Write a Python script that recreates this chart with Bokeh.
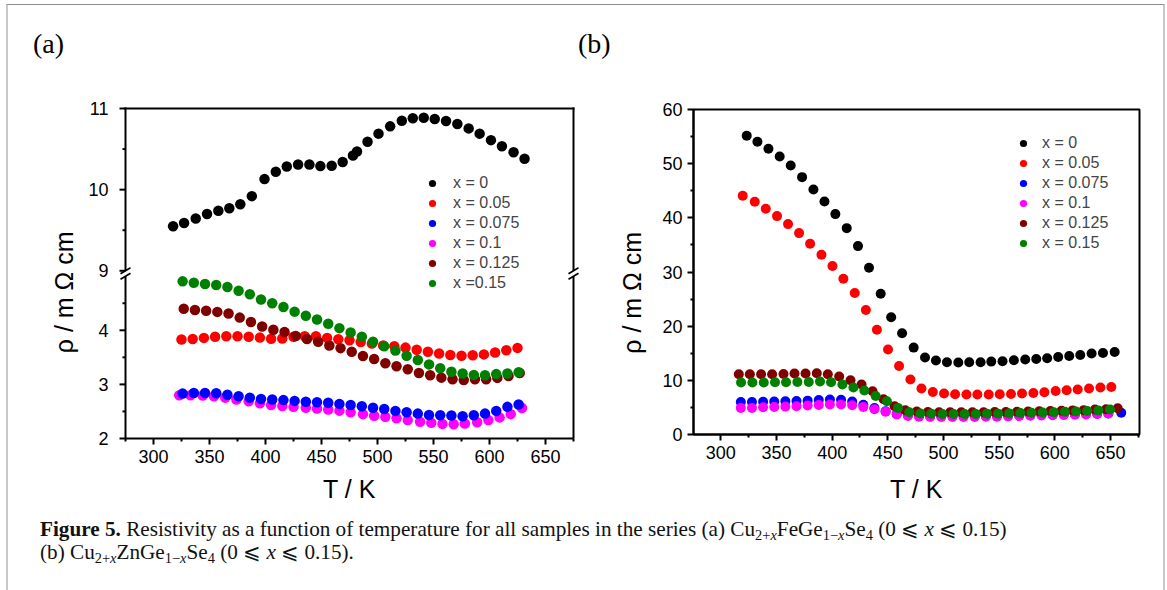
import numpy as np
from bokeh.plotting import figure
from bokeh.models import FixedTicker, Legend, LegendItem, Div
from bokeh.layouts import column, row
from bokeh.embed import file_html
from bokeh.resources import INLINE

# ---------------- data ----------------
SERIES_LABELS_A = ["x = 0", "x = 0.05", "x = 0.075", "x = 0.1", "x = 0.125", "x =0.15"]
SERIES_LABELS_B = ["x = 0", "x = 0.05", "x = 0.075", "x = 0.1", "x = 0.125", "x = 0.15"]
COLORS = ["#000000", "#ff0000", "#0000ff", "#ff00ff", "#800000", "#008000"]

# panel (a): Cu2+xFeGe1-xSe4
T_a0 = [317.5, 327.3, 337.7, 347.8, 357.9, 367.7, 377.5, 387.8, 399.1, 409.2, 419.0, 429.1, 439.2, 449.0, 459.1,
        468.9, 478.1, 481.7, 491.1, 500.9, 511.3, 521.7, 531.5, 541.3, 551.1, 561.2, 571.3, 581.4, 591.2, 601.3,
        611.1, 621.5, 631.3]
R_a0 = [9.55, 9.59, 9.645, 9.70, 9.74, 9.77, 9.82, 9.92, 10.13, 10.22, 10.285, 10.31, 10.31, 10.29, 10.295,
        10.34, 10.42, 10.47, 10.59, 10.69, 10.78, 10.85, 10.88, 10.885, 10.87, 10.845, 10.81, 10.755, 10.69, 10.61,
        10.535, 10.46, 10.38]
T_a1 = [325, 335, 345, 355, 365, 375, 385, 395, 405, 415, 425, 435, 445, 455, 465, 475, 485, 495, 505, 515,
        525, 535, 545, 555, 565, 575, 585, 595, 605, 615, 625]
R_a1 = [3.83, 3.84, 3.86, 3.88, 3.89, 3.89, 3.88, 3.865, 3.845, 3.85, 3.88, 3.89, 3.89, 3.86, 3.835, 3.815,
        3.785, 3.755, 3.72, 3.705, 3.68, 3.64, 3.605, 3.57, 3.545, 3.53, 3.54, 3.555, 3.59, 3.63, 3.675]
T_a2 = [326, 336, 346, 356, 366, 376, 386, 396, 406, 416, 426, 436, 446, 456, 466, 476, 486, 496, 506, 516,
        526, 536, 546, 556, 566, 576, 586, 596, 606, 616, 626]
R_a2 = [2.83, 2.84, 2.84, 2.835, 2.81, 2.78, 2.755, 2.73, 2.72, 2.71, 2.695, 2.68, 2.67, 2.66, 2.64, 2.62,
        2.595, 2.57, 2.545, 2.51, 2.485, 2.46, 2.435, 2.43, 2.425, 2.41, 2.43, 2.46, 2.51, 2.585, 2.63]
T_a3 = [323, 333, 344, 354, 364, 374, 385, 395, 405, 415, 425, 436, 446, 456, 466, 476, 487, 497, 507, 517,
        527, 538, 548, 558, 568, 578, 589, 599, 609, 619, 629]
R_a3 = [2.80, 2.80, 2.795, 2.78, 2.755, 2.72, 2.69, 2.65, 2.62, 2.60, 2.585, 2.57, 2.555, 2.535, 2.515, 2.485,
        2.45, 2.42, 2.40, 2.375, 2.34, 2.31, 2.29, 2.27, 2.265, 2.275, 2.30, 2.34, 2.39, 2.45, 2.565]
T_a4 = [327, 337, 347, 357, 367, 377, 387, 397, 407, 417, 427, 437, 447, 457, 467, 477, 487, 497, 507, 517,
        527, 537, 547, 557, 567, 577, 587, 597, 607, 617, 627]
R_a4 = [4.40, 4.375, 4.36, 4.34, 4.31, 4.235, 4.155, 4.07, 4.01, 3.97, 3.895, 3.84, 3.79, 3.72, 3.67, 3.605,
        3.525, 3.47, 3.39, 3.335, 3.28, 3.21, 3.17, 3.125, 3.095, 3.08, 3.095, 3.095, 3.12, 3.155, 3.21]
T_a5 = [326, 336, 346, 356, 366, 376, 386, 396, 406, 416, 426, 436, 446, 456, 466, 476, 486, 496, 506, 516,
        526, 536, 546, 556, 566, 576, 586, 596, 606, 616, 626]
R_a5 = [4.905, 4.88, 4.855, 4.837, 4.80, 4.73, 4.665, 4.57, 4.50, 4.43, 4.345, 4.27, 4.20, 4.12, 4.04, 3.96,
        3.88, 3.79, 3.705, 3.625, 3.53, 3.45, 3.37, 3.30, 3.235, 3.20, 3.175, 3.17, 3.19, 3.20, 3.225]

# panel (b): Cu2+xZnGe1-xSe4
T_b0 = [323.3, 332.9, 342.8, 352.9, 362.8, 373.0, 383.2, 393.1, 402.9, 413.1, 423.2, 433.1, 443.6, 453.0, 462.8,
        473.2, 483.4, 493.2, 503.1, 513.3, 523.1, 533.3, 542.9, 553.0, 563.2, 573.4, 583.3, 593.1, 603.0, 612.9,
        622.8, 633.0, 643.2, 653.7]
R_b0 = [55.15, 54.04, 52.75, 51.33, 49.67, 47.51, 45.24, 43.03, 40.69, 38.10, 34.78, 30.80, 26.0, 21.65, 18.68,
        16.04, 14.2, 13.65, 13.33, 13.28, 13.33, 13.33, 13.46, 13.52, 13.7, 13.83, 13.94, 14.07, 14.3, 14.5,
        14.68, 14.94, 15.05, 15.24]
T_b1 = [319.7, 330.5, 340.4, 350.5, 360.4, 370.3, 380.2, 390.4, 400.3, 410.1, 420.3, 430.3, 440.2, 450.2, 460.1,
        470.3, 480.2, 490.4, 500.5, 510.4, 520.6, 530.4, 540.6, 550.5, 560.6, 570.5, 580.7, 590.6, 600.7, 610.6,
        620.5, 630.7, 640.9, 650.7]
R_b1 = [44.08, 42.97, 41.68, 40.32, 38.84, 37.18, 35.23, 33.2, 31.1, 28.77, 26.12, 23.0, 19.33, 15.7, 12.65,
        10.14, 8.48, 7.86, 7.56, 7.43, 7.38, 7.38, 7.38, 7.43, 7.49, 7.56, 7.67, 7.8, 8.04, 8.17,
        8.3, 8.48, 8.67, 8.78]
T_b2 = [318, 328, 338, 348, 358, 368, 378, 388, 398, 408, 418, 428, 438, 448, 458, 468, 478, 488, 498, 508,
        518, 528, 538, 548, 558, 568, 578, 588, 598, 608, 618, 628, 638, 648, 659.6]
R_b2 = [6.01, 6.01, 6.05, 6.1, 6.15, 6.2, 6.25, 6.35, 6.45, 6.4, 6.1, 5.5, 4.9, 4.3, 3.8, 3.55, 3.45, 3.4, 3.4,
        3.4, 3.4, 3.4, 3.4, 3.45, 3.5, 3.5, 3.55, 3.6, 3.65, 3.7, 3.75, 3.8, 3.85, 3.9, 4.0]
T_b3 = [318, 328, 338, 348, 358, 368, 378, 388, 398, 408, 418, 428, 438, 448, 458, 468, 478, 488, 498, 508,
        518, 528, 538, 548, 558, 568, 578, 588, 598, 608, 618, 628, 638, 648]
R_b3 = [4.91, 4.91, 5.03, 5.09, 5.15, 5.22, 5.35, 5.46, 5.53, 5.53, 5.4, 5.1, 4.66, 4.2, 3.7, 3.4, 3.3, 3.25,
        3.25, 3.25, 3.25, 3.25, 3.3, 3.3, 3.35, 3.4, 3.45, 3.5, 3.55, 3.6, 3.65, 3.7, 3.8, 3.9]
T_b4 = [316.2, 326.1, 336.2, 346.1, 356.3, 366.2, 376.1, 386.2, 396.1, 406.3, 416.5, 426.4, 436.3, 446.2, 456.1,
        465.7, 476, 486, 496, 506, 516, 526, 536, 546, 556, 566, 576, 586, 596, 606, 616, 626, 636, 646, 656.4]
R_b4 = [11.12, 11.12, 11.12, 11.12, 11.18, 11.25, 11.25, 11.3, 11.12, 10.7, 10.01, 9.22, 7.99, 6.51, 5.22,
        4.48, 4.25, 4.15, 4.1, 4.1, 4.1, 4.1, 4.1, 4.15, 4.15, 4.2, 4.25, 4.3, 4.35, 4.4, 4.45, 4.5, 4.6, 4.65, 4.85]
T_b5 = [318.2, 328.4, 338.6, 348.7, 358.6, 368.8, 379.0, 389.1, 399.0, 409.2, 419.1, 428.9, 439.1, 449.2, 459.1,
        469.3, 479.2, 489, 499, 509, 519, 529, 539, 549, 559, 569, 579, 589, 599, 609, 619, 629, 639, 649.5]
R_b5 = [9.59, 9.59, 9.59, 9.65, 9.65, 9.7, 9.7, 9.77, 9.65, 9.22, 8.67, 8.11, 7.12, 6.14, 4.91, 4.11, 3.87,
        3.85, 3.8, 3.8, 3.8, 3.8, 3.85, 3.85, 3.9, 3.95, 4.0, 4.05, 4.1, 4.2, 4.25, 4.35, 4.45, 4.6]

X_MAJOR = [300, 350, 400, 450, 500, 550, 600, 650]
X_MINOR = [275, 325, 375, 425, 475, 525, 575, 625, 675]
X_LIMITS = (275, 675)
YA_MAJOR = [2, 3, 4, 9, 10, 11]
YA_MINOR = [2.5, 3.5, 4.5, 9.5, 10.5]
YB_MAJOR = [0, 10, 20, 30, 40, 50, 60]
YB_MINOR = [5, 15, 25, 35, 45, 55]

X_TITLE = "T / K"
Y_TITLE = "\u03c1 / m \u03a9 cm"
PANEL_A, PANEL_B = "(a)", "(b)"
CAPTION_1 = ("<b>Figure 5.</b> Resistivity as a function of temperature for all samples in the series (a) "
             "Cu<sub>2+<i>x</i></sub>FeGe<sub>1\u2212<i>x</i></sub>Se<sub>4</sub> (0 \u2a7d <i>x</i> \u2a7d 0.15)")
CAPTION_2 = ("(b) Cu<sub>2+<i>x</i></sub>ZnGe<sub>1\u2212<i>x</i></sub>Se<sub>4</sub> "
             "(0 \u2a7d <i>x</i> \u2a7d 0.15).")

# ---------------- broken axis for panel (a) ----------------
BREAK_LO, BREAK_HI, GAP, UPPER_SCALE = 5.0, 9.0, 0.1, 1.5
YA_BOTTOM, YA_TOP = 2.0, 11.0


def to_axis(y):
    y = np.asarray(y, dtype=float)
    return np.where(y <= BREAK_LO, y, BREAK_LO + GAP + (y - BREAK_HI) * UPPER_SCALE)


SANS = "Liberation Sans"
SERIF = "Liberation Serif"
NBSP = "\u00a0"


def no_frame_align(p):
    try:
        p.frame_align = False
    except Exception:
        pass


def style_axes(p, yticker, ylab_standoff, ytick_standoff, xlab_standoff):
    p.grid.visible = False
    p.xaxis.ticker = FixedTicker(ticks=X_MAJOR, minor_ticks=X_MINOR)
    p.yaxis.ticker = yticker
    for ax in (p.xaxis[0], p.yaxis[0]):
        ax.axis_line_width = 2
        ax.major_tick_line_width = 2
        ax.minor_tick_line_width = 2
        ax.major_tick_out = 6
        ax.major_tick_in = 0
        ax.minor_tick_out = 3
        ax.minor_tick_in = 0
        ax.major_label_text_font = SANS
        ax.major_label_text_font_size = "18px"
        ax.major_label_text_color = "black"
        ax.axis_label_text_font = SANS
        ax.axis_label_text_font_size = "25px"
        ax.axis_label_text_font_style = "normal"
        ax.axis_label_text_color = "black"
    p.xaxis.major_label_standoff = 5
    p.yaxis.major_label_standoff = ytick_standoff
    p.xaxis.axis_label = X_TITLE
    p.xaxis.axis_label_standoff = xlab_standoff
    # the Origin-style y title sits a little below the frame centre
    p.yaxis.axis_label = Y_TITLE + NBSP * 6
    p.yaxis.axis_label_standoff = ylab_standoff


def make_legend(p, renderers, labels, loc, standoff):
    items = [LegendItem(label=l, renderers=[r]) for l, r in zip(labels, renderers)]
    lg = Legend(items=items, location=loc, padding=0, margin=0, spacing=0,
                glyph_width=18, glyph_height=20, label_height=20, label_standoff=standoff,
                label_text_font=SANS, label_text_font_size="16px", border_line_color=None,
                background_fill_alpha=0)
    p.add_layout(lg)


# ---------------- panel (a) ----------------
PXX = 1.12          # px per K
PXV = 54.1          # px per axis unit
PAD = 7             # px of frame beyond the drawn box (room for the break marks)
y_hi_axis = float(to_axis(YA_TOP))
fa = figure(width=592, height=455, title=None,
            x_range=(X_LIMITS[0] - PAD / PXX, X_LIMITS[1] + PAD / PXX),
            y_range=(YA_BOTTOM, y_hi_axis + 4 / PXV),
            output_backend="svg", toolbar_location=None,
            min_border_left=110, min_border_right=20, min_border_top=44, min_border_bottom=77)
no_frame_align(fa)
ya_major = [float(v) for v in to_axis(YA_MAJOR)]
ya_minor = [float(v) for v in to_axis(YA_MINOR)]
style_axes(fa, FixedTicker(ticks=ya_major, minor_ticks=ya_minor), 7, 4, 9)
fa.yaxis.major_label_overrides = {v: str(t) for v, t in zip(ya_major, YA_MAJOR)}
# the y axis only carries labels; its line and ticks are drawn at the box edge below
fa.yaxis.axis_line_color = None
fa.yaxis.major_tick_line_color = None
fa.yaxis.minor_tick_line_color = None
fa.xaxis.bounds = X_LIMITS
fa.outline_line_color = None

series_a = [(T_a0, R_a0), (T_a1, R_a1), (T_a2, R_a2), (T_a3, R_a3), (T_a4, R_a4), (T_a5, R_a5)]
draw_order_a = [0, 1, 3, 2, 4, 5]
rend_a = {}
for i in draw_order_a:
    t, r = series_a[i]
    rend_a[i] = fa.scatter(t, to_axis(r), marker="circle", size=10.5, fill_color=COLORS[i], line_color=None)
make_legend(fa, [rend_a[i] for i in range(6)], SERIES_LABELS_A, (305, 145), 12)

# box with broken left/right edges
x0, x1 = X_LIMITS
lo_top, hi_bot = BREAK_LO, BREAK_LO + GAP
top_y = y_hi_axis
ex, ey = 1 / PXX, 1 / PXV
fa.segment(x0=[x0, x0, x1, x1, x0 - ex], y0=[YA_BOTTOM, hi_bot, YA_BOTTOM, hi_bot, top_y],
           x1=[x0, x0, x1, x1, x1 + ex], y1=[lo_top, top_y + ey, lo_top, top_y + ey, top_y],
           line_color="black", line_width=2, level="overlay")
# y ticks (outside) on the left edge
fa.segment(x0=[x0 - 6 / PXX] * len(ya_major), y0=ya_major, x1=[x0] * len(ya_major), y1=ya_major,
           line_color="black", line_width=2, level="overlay")
fa.segment(x0=[x0 - 3 / PXX] * len(ya_minor), y0=ya_minor, x1=[x0] * len(ya_minor), y1=ya_minor,
           line_color="black", line_width=2, level="overlay")
# break marks
for xe in X_LIMITS:
    fa.segment(x0=[xe - 5 / PXX] * 2, y0=[lo_top - 3 / PXV, hi_bot - 3 / PXV],
               x1=[xe + 5 / PXX] * 2, y1=[lo_top + 3 / PXV, hi_bot + 3 / PXV],
               line_color="black", line_width=1.6, level="overlay")

# ---------------- panel (b) ----------------
fb = figure(width=563, height=455, x_range=(275.5, 676), y_range=(0, 60), title=None,
            output_backend="svg", toolbar_location=None,
            min_border_left=93, min_border_right=24, min_border_top=49, min_border_bottom=81)
no_frame_align(fb)
style_axes(fb, FixedTicker(ticks=YB_MAJOR, minor_ticks=YB_MINOR), 13, 5, 13)
fb.outline_line_color = "black"
fb.outline_line_width = 2
series_b = [(T_b0, R_b0), (T_b1, R_b1), (T_b2, R_b2), (T_b3, R_b3), (T_b4, R_b4), (T_b5, R_b5)]
rend_b = []
for i, (t, r) in enumerate(series_b):
    rend_b.append(fb.scatter(t, r, marker="circle", size=10, fill_color=COLORS[i], line_color=None))
make_legend(fb, rend_b, SERIES_LABELS_B, (321, 181), 10)

# ---------------- panel letters and caption ----------------
lab_style = "position:absolute; top:25px; font-family:'Liberation Serif', serif; font-size:28px; line-height:28px;"
top_html = ('<div style="position:relative; width:1155px; height:55px;">'
            f'<span style="{lab_style} left:25px;">{PANEL_A}</span>'
            f'<span style="{lab_style} left:570px;">{PANEL_B}</span></div>')
top = Div(text=top_html, width=1155, height=55, margin=0)

cap_html = ('<div style="font-family: \'Liberation Serif\', \'DejaVu Serif\', serif; font-size: 21.2px; '
            'line-height: 23px; padding: 3px 0 0 32px; white-space: nowrap; color: #111;">'
            + CAPTION_1 + '<br>' + CAPTION_2 + '</div>')
cap_html = cap_html.replace('<sub>', '<sub style="font-size:0.68em; vertical-align:-0.25em; line-height:0;">')
cap = Div(text=cap_html, width=1155, height=75, margin=0)

root = column(top, row(fa, fb, spacing=0), cap, spacing=0,
              styles={"margin-left": "6px", "margin-top": "4px",
                      "border-left": "2px solid #c8c8c8", "border-top": "1px solid #8e8e8e",
                      "border-right": "2px solid #c8c8c8", "background": "white"})

open("out.html", "w").write(file_html(root, INLINE))
